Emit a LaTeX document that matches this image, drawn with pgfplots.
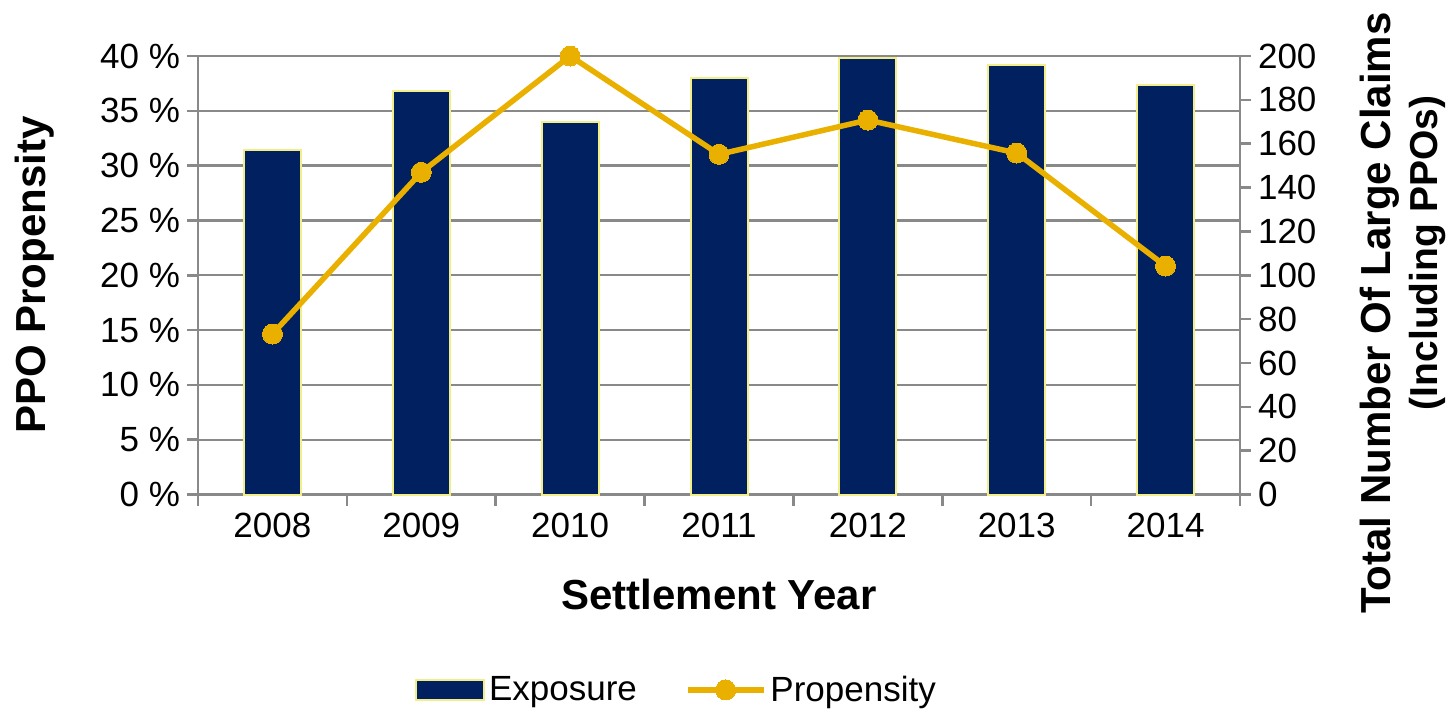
\documentclass[border=0pt]{standalone}
\usepackage{pgfplots}
\pgfplotsset{compat=1.18}
\usepackage{fontspec}
\setmainfont{Liberation Sans}

\definecolor{navy}{RGB}{0,32,96}
\definecolor{gold}{RGB}{234,176,0}
\definecolor{edgeyellow}{RGB}{242,238,138}
\definecolor{axgray}{RGB}{137,137,137}

\newcommand{\tickfont}{\fontsize{17.5}{20}\selectfont}
\newcommand{\labfont}{\bfseries\fontsize{21}{23.5}\selectfont}

% exposure = number of large claims (right axis)
\pgfplotstableread{
x  claims
0  157
1  184
2  170
3  190
4  199
5  196
6  187
}\exposure
% propensity in percent (left axis)
\pgfplotstableread{
x  pct
0  14.64
1  29.39
2  40.00
3  31.03
4  34.16
5  31.15
6  20.84
}\propensity

\pgfplotsset{
  common/.style={
    width=521pt, height=219.25pt, scale only axis,
    xmin=-0.5, xmax=6.5,
    tick align=outside,
    major tick length=5.5pt,
    axis line style={draw=axgray, line width=1.3pt},
    tick style={draw=axgray, line width=1.3pt},
    tick label style={font=\tickfont},
    /pgf/number format/assume math mode=true,
    clip=false,
  },
  barlegend/.style={legend image code/.code={\draw[##1] (0pt,-5pt) rectangle (34pt,5pt);}},
  linelegend/.style={legend image code/.code={\draw[##1, mark repeat=2, mark phase=2]
    plot coordinates {(0pt,0pt) (19pt,0pt) (38pt,0pt)};}},
}

\begin{document}
\begin{tikzpicture}
\useasboundingbox (-99pt,-107.25pt) rectangle (628.5pt,247.25pt);

% right axis: bars, gridlines, category axis
\begin{axis}[
  common,
  axis x line*=bottom,
  axis y line*=right,
  ymin=0, ymax=200,
  ytick={0,20,...,200},
  extra y ticks={25,50,...,200},
  extra y tick labels={},
  extra y tick style={major tick length=0pt, grid=major,
    major grid style={draw=axgray, line width=1.2pt}},
  xtick={-0.5,0.5,...,6.5},
  xticklabels={2008,2009,2010,2011,2012,2013,2014},
  x tick label as interval,
  xlabel={Settlement Year},
  xlabel style={font=\labfont, at={(axis description cs:0.5,-0.229)}, anchor=center},
  ylabel={Total Number Of Large Claims\\\hspace*{60pt}{\fontsize{19.5}{22}\selectfont(Including PPOs)}},
  ylabel style={font=\labfont, align=center, at={(axis description cs:1.1564,0.414)}, anchor=center},
]
\addplot[ybar, bar width=28.5pt, bar shift=0pt, fill=navy, draw=edgeyellow, line width=1pt]
  table[x=x, y=claims] {\exposure};
\end{axis}

% left axis: propensity line and legend
\begin{axis}[
  common,
  axis x line=none,
  axis y line*=left,
  ymin=0, ymax=40,
  ytick={0,5,...,40},
  yticklabels={0 \%,5 \%,10 \%,15 \%,20 \%,25 \%,30 \%,35 \%,40 \%},
  ylabel={PPO Propensity},
  ylabel style={font=\labfont, at={(axis description cs:-0.1564,0.5)}, anchor=center},
  legend style={at={(axis description cs:0.2022,-0.4458)}, anchor=west,
    draw=none, fill=none, font=\tickfont, legend columns=2,
    /tikz/every even column/.append style={column sep=22pt},
    legend cell align=left},
]
\addlegendimage{fill=navy, draw=edgeyellow, line width=1pt, barlegend}
\addplot[color=gold, line width=2.75pt, mark=*, mark size=5pt,
  mark options={fill=gold, draw=gold, line width=0pt}, linelegend]
  table[x=x, y=pct] {\propensity};
\legend{Exposure, Propensity}
\end{axis}
\end{tikzpicture}
\end{document}
